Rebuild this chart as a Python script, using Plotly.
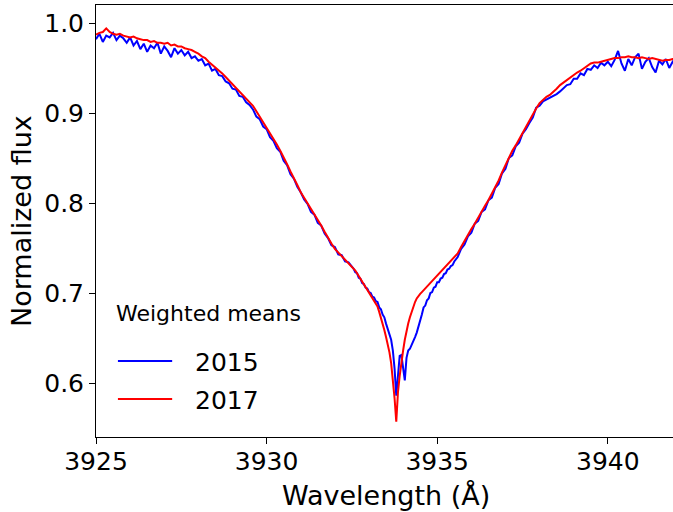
import plotly.graph_objects as go

# Wavelength samples (Angstrom): blue wing, line core, red wing
wavelength_left = [
    3925.0, 3925.1, 3925.2, 3925.3, 3925.4, 3925.5, 3925.6, 3925.7, 3925.8, 3925.9,
    3926.0, 3926.1, 3926.2, 3926.3, 3926.4, 3926.5, 3926.6, 3926.7, 3926.8, 3926.9,
    3927.0, 3927.1, 3927.2, 3927.3, 3927.4, 3927.5, 3927.6, 3927.7, 3927.8, 3927.9,
    3928.0, 3928.1, 3928.2, 3928.3, 3928.4, 3928.5, 3928.6, 3928.7, 3928.8, 3928.9,
    3929.0, 3929.1, 3929.2, 3929.3, 3929.4, 3929.5, 3929.6, 3929.7, 3929.8, 3929.9,
    3930.0, 3930.1, 3930.2, 3930.3, 3930.4, 3930.5, 3930.6, 3930.7, 3930.8, 3930.9,
    3931.0, 3931.1, 3931.2, 3931.3, 3931.4, 3931.5, 3931.6, 3931.7, 3931.8, 3931.9,
    3932.0, 3932.1, 3932.2, 3932.3, 3932.4,
]
wavelength_core = [
    3932.50, 3932.55, 3932.60, 3932.65, 3932.70, 3932.75, 3932.80, 3932.85, 3932.90, 3932.95,
    3933.00, 3933.05, 3933.10, 3933.15, 3933.20, 3933.25, 3933.30, 3933.35, 3933.40, 3933.45,
    3933.50, 3933.55, 3933.60, 3933.65, 3933.70, 3933.75, 3933.80, 3933.85, 3933.90, 3933.95,
    3934.00, 3934.05, 3934.10, 3934.15, 3934.20, 3934.25, 3934.30, 3934.35, 3934.40, 3934.45,
    3934.50, 3934.55, 3934.60, 3934.65, 3934.70, 3934.75, 3934.80, 3934.85, 3934.90, 3934.95,
    3935.00, 3935.05, 3935.10, 3935.15, 3935.20, 3935.25, 3935.30, 3935.35, 3935.40, 3935.45,
    3935.50,
]
wavelength_right = [
    3935.6, 3935.7, 3935.8, 3935.9,
    3936.0, 3936.1, 3936.2, 3936.3, 3936.4, 3936.5, 3936.6, 3936.7, 3936.8, 3936.9,
    3937.0, 3937.1, 3937.2, 3937.3, 3937.4, 3937.5, 3937.6, 3937.7, 3937.8, 3937.9,
    3938.0, 3938.1, 3938.2, 3938.3, 3938.4, 3938.5, 3938.6, 3938.7, 3938.8, 3938.9,
    3939.0, 3939.1, 3939.2, 3939.3, 3939.4, 3939.5, 3939.6, 3939.7, 3939.8, 3939.9,
    3940.0, 3940.1, 3940.2, 3940.3, 3940.4, 3940.5, 3940.6, 3940.7, 3940.8, 3940.9,
    3941.0, 3941.1, 3941.2, 3941.3, 3941.4, 3941.5, 3941.6, 3941.7, 3941.8, 3941.9,
    3942.0,
]

# 2015 weighted mean spectrum
flux_2015_left = [
    0.982, 0.988, 0.979, 0.986, 0.984, 0.989, 0.981, 0.986, 0.983, 0.978,
    0.984, 0.975, 0.980, 0.971, 0.977, 0.968, 0.975, 0.972, 0.978, 0.966,
    0.974, 0.969, 0.962, 0.972, 0.966, 0.970, 0.964, 0.968, 0.961, 0.963,
    0.958, 0.960, 0.953, 0.955, 0.947, 0.949, 0.942, 0.941, 0.935, 0.933,
    0.927, 0.926, 0.919, 0.918, 0.912, 0.909, 0.904, 0.896, 0.893, 0.885,
    0.882, 0.873, 0.869, 0.861, 0.857, 0.847, 0.842, 0.832, 0.827, 0.818,
    0.812, 0.804, 0.799, 0.790, 0.787, 0.778, 0.775, 0.766, 0.761, 0.753,
    0.751, 0.743, 0.742, 0.735, 0.734,
]
flux_2015_core = [
    0.729, 0.727, 0.723, 0.722, 0.717, 0.716, 0.711, 0.710, 0.706, 0.705,
    0.701, 0.700, 0.696, 0.695, 0.691, 0.690, 0.684, 0.682, 0.676, 0.673,
    0.666, 0.660, 0.655, 0.648, 0.636, 0.616, 0.586, 0.612, 0.630, 0.631,
    0.615, 0.603, 0.628, 0.636, 0.638, 0.642, 0.647, 0.651, 0.656, 0.662,
    0.670, 0.676, 0.684, 0.686, 0.692, 0.694, 0.700, 0.701, 0.706, 0.707,
    0.712, 0.712, 0.716, 0.717, 0.721, 0.722, 0.726, 0.727, 0.730, 0.731,
    0.735,
]
flux_2015_right = [
    0.740, 0.749, 0.754, 0.763,
    0.767, 0.777, 0.780, 0.790, 0.793, 0.803, 0.806, 0.817, 0.821, 0.833,
    0.838, 0.850, 0.853, 0.863, 0.867, 0.877, 0.882, 0.889, 0.895, 0.906,
    0.908, 0.913, 0.915, 0.917, 0.919, 0.921, 0.924, 0.928, 0.931, 0.932,
    0.938, 0.938, 0.944, 0.942, 0.949, 0.948, 0.953, 0.950, 0.956, 0.953,
    0.957, 0.952, 0.959, 0.969, 0.955, 0.947, 0.960, 0.953, 0.962, 0.966,
    0.949, 0.957, 0.961, 0.951, 0.945, 0.958, 0.954, 0.960, 0.950, 0.957,
    0.953,
]

# 2017 weighted mean spectrum
flux_2017_left = [
    0.987, 0.989, 0.990, 0.994, 0.990, 0.988, 0.987, 0.988, 0.986, 0.985,
    0.984, 0.985, 0.983, 0.982, 0.981, 0.981, 0.979, 0.980, 0.978, 0.978,
    0.977, 0.978, 0.975, 0.976, 0.974, 0.974, 0.972, 0.971, 0.970, 0.968,
    0.966, 0.963, 0.961, 0.957, 0.954, 0.951, 0.947, 0.944, 0.940, 0.936,
    0.932, 0.929, 0.925, 0.921, 0.917, 0.913, 0.908, 0.902, 0.896, 0.890,
    0.884, 0.878, 0.871, 0.865, 0.858, 0.851, 0.843, 0.835, 0.828, 0.820,
    0.812, 0.806, 0.799, 0.793, 0.787, 0.781, 0.775, 0.768, 0.761, 0.755,
    0.749, 0.745, 0.741, 0.737, 0.733,
]
flux_2017_core = [
    0.730, 0.728, 0.725, 0.722, 0.719, 0.716, 0.713, 0.709, 0.706, 0.703,
    0.700, 0.697, 0.694, 0.692, 0.689, 0.685, 0.679, 0.673, 0.666, 0.659,
    0.651, 0.643, 0.634, 0.622, 0.605, 0.583, 0.557, 0.590, 0.608, 0.624,
    0.636, 0.648, 0.658, 0.666, 0.673, 0.679, 0.685, 0.690, 0.694, 0.697,
    0.699, 0.701, 0.703, 0.705, 0.707, 0.709, 0.711, 0.713, 0.715, 0.717,
    0.719, 0.721, 0.723, 0.725, 0.727, 0.729, 0.731, 0.733, 0.735, 0.737,
    0.739,
]
flux_2017_right = [
    0.744, 0.751, 0.758, 0.764,
    0.771, 0.777, 0.784, 0.790, 0.797, 0.803, 0.810, 0.818, 0.825, 0.834,
    0.842, 0.850, 0.858, 0.864, 0.871, 0.877, 0.884, 0.892, 0.899, 0.905,
    0.911, 0.915, 0.918, 0.920, 0.923, 0.927, 0.931, 0.934, 0.937, 0.940,
    0.942, 0.945, 0.947, 0.950, 0.953, 0.955, 0.956, 0.956, 0.957, 0.958,
    0.959, 0.960, 0.961, 0.961, 0.962, 0.962, 0.963, 0.962, 0.962, 0.961,
    0.962, 0.961, 0.960, 0.961, 0.960, 0.959, 0.958, 0.959, 0.959, 0.960,
    0.960,
]

x_ticks = [3925, 3930, 3935, 3940]
y_ticks = [0.6, 0.7, 0.8, 0.9, 1.0]
series_names = ["2015", "2017"]
series_colors = ["#0000ff", "#ff0000"]

wavelength = wavelength_left + wavelength_core + wavelength_right
fluxes = [flux_2015_left + flux_2015_core + flux_2015_right,
          flux_2017_left + flux_2017_core + flux_2017_right]

FONT = "DejaVu Sans"

fig = go.Figure()
for name, color, flux in zip(series_names, series_colors, fluxes):
    fig.add_trace(go.Scatter(x=wavelength, y=flux, mode="lines", name=name,
                             line=dict(color=color, width=2), showlegend=False))

axis_style = dict(showgrid=False, zeroline=False, showline=True, linecolor="black",
                  linewidth=1, ticks="outside", ticklen=6, tickwidth=1,
                  tickcolor="black", automargin=False,
                  tickfont=dict(family=FONT, size=25, color="black"))

fig.update_layout(
    width=673, height=512,
    margin=dict(l=96, r=0, t=5, b=75),
    plot_bgcolor="white", paper_bgcolor="white",
    font=dict(family=FONT, color="black"),
    xaxis=dict(range=[3925, 3941.91], tickvals=x_ticks, mirror=True,
               ticklabelstandoff=-4, **axis_style),
    yaxis=dict(range=[0.54, 1.02], tickvals=y_ticks, tickformat=".1f", **axis_style),
)

# axis titles
fig.add_annotation(text="Wavelength (Å)", xref="paper", yref="paper",
                   x=0.502, y=-0.135, xanchor="center", yanchor="middle",
                   showarrow=False, font=dict(size=27))
fig.add_annotation(text="Normalized flux", xref="paper", yref="paper",
                   x=-0.130, y=0.5, xanchor="center", yanchor="middle",
                   textangle=-90, showarrow=False, font=dict(size=27))

# legend drawn like matplotlib's frameless legend
fig.add_annotation(text="Weighted means", xref="paper", yref="paper",
                   x=0.031, y=0.287, xanchor="left", yanchor="middle",
                   showarrow=False, font=dict(size=22))
for i, (name, color) in enumerate(zip(series_names, series_colors)):
    y_line = 0.176 - i * 0.088
    fig.add_shape(type="line", xref="paper", yref="paper",
                  x0=0.038, x1=0.132, y0=y_line, y1=y_line,
                  line=dict(color=color, width=2))
    fig.add_annotation(text=name, xref="paper", yref="paper",
                       x=0.168, y=y_line - 0.003, xanchor="left", yanchor="middle",
                       showarrow=False, font=dict(size=25))

fig.write_html("out.html", config={"displayModeBar": False},
               post_script="document.body.style.margin='0';"
                           "document.body.style.overflow='hidden';")
